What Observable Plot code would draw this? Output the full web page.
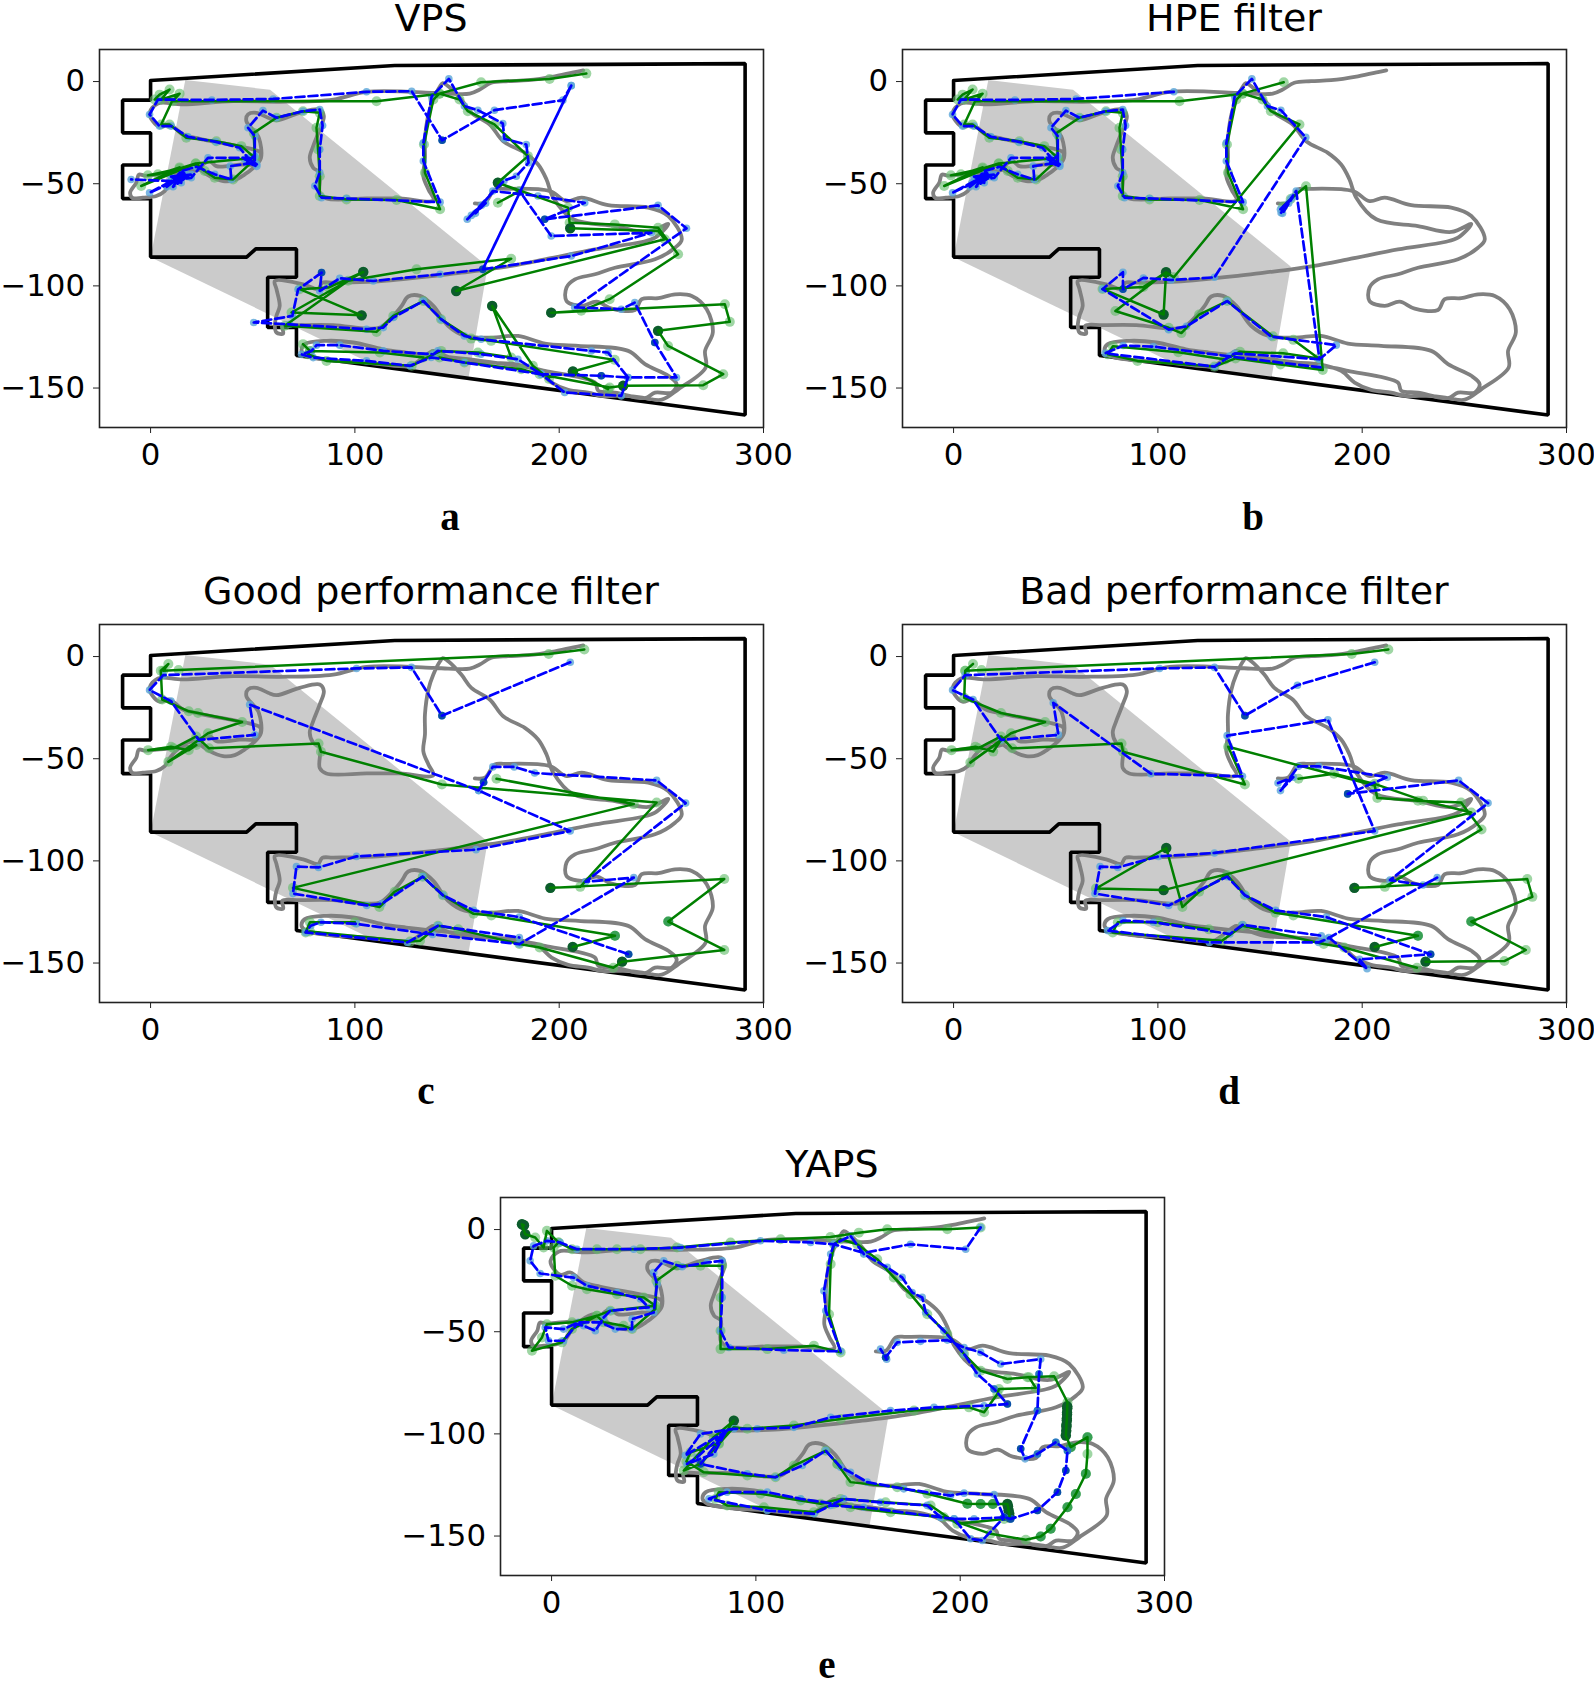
<!DOCTYPE html>
<html><head><meta charset="utf-8">
<script src="https://cdn.jsdelivr.net/npm/d3@7"></script>
<script src="https://cdn.jsdelivr.net/npm/@observablehq/plot@0.6"></script>
<style>
html,body{margin:0;padding:0;background:#fff;}
#fig{position:relative;width:1594px;height:1687px;overflow:hidden;}
.panel{position:absolute;}
.title{position:absolute;font:38px/.8 "DejaVu Sans";color:#000;text-align:center;white-space:nowrap;transform:translateX(-50%);}
.tag{position:absolute;font:bold 39px/1 "Liberation Serif";color:#000;transform:translateX(-50%);}
</style></head><body><div id="fig"></div>
<script>
const GAP=[NaN,NaN];
const tickX=[0,100,200,300];
const tickY=[0,-50,-100,-150];
const boundary=[[0,0],[119.5,7.4],[291,8.3],[291,-163.7],[71.4,-134.6],[71.4,-120.8],[57.3,-120.8],[57.3,-96.3],[71.4,-96.3],[71.4,-82.4],[51.5,-82.4],[47,-86.4],[0,-86.4],[0,-57.8],[-13.7,-57.8],[-13.7,-41.3],[0,-41.3],[0,-25.6],[-13.7,-25.6],[-13.7,-9.6],[0,-9.6],[0,0]];
const coverage=[[17,0.3],[58.5,-4.5],[165,-91],[155.6,-145.6],[110,-139.5],[0,-86.5]];
const trueTrack=[[211.8,5],[207.7,4.1],[197.9,2.1],[184.8,.2],[175,-.3],[166.8,-1.1],[161.1,-4.4],[156.2,-6.4],[145.6,-6.4],[138.4,-6],[105.7,-5.5],[89.4,-9.3],[63.2,-10.4],[40.4,-10.1],[15.8,-11.7],[3.6,-11.2],[-.5,-15.8],[1.1,-19.9],[4.4,-22.6],[9.3,-21.5],[15.8,-26.4],[24,-28.5],[42.8,-32.1],[50.2,-33.7],[53.8,-35.4],[53.1,-39.4],[50.2,-41.1],[43.6,-41.1],[37.7,-41.9],[32.2,-41.9],[28.9,-39.4],[25.7,-41.1],[24,-43.5],[14.2,-45.1],[3,-46],[-3,-46.5],[-5.7,-46],[-7,-50],[-10,-54.9],[-8.7,-57.7],[-3.8,-57.3],[2.8,-56.5],[6.9,-54.1],[10.1,-49.2],[14.2,-45.1],[20.8,-41.9],[24,-43.5],[28.9,-46.8],[35.5,-49.2],[41.2,-48.7],[46,-46],[50,-43],[54,-38],[53,-28],[51,-25],[46.9,-19.9],[47.7,-16.6],[51.8,-15.8],[57.5,-18.2],[61.6,-19.4],[73,-15.8],[82.8,-14.2],[84.8,-17.4],[82.8,-23.9],[79.6,-32.1],[77.9,-37.8],[79.6,-42.7],[82.8,-45],[82.8,-55],[86,-57.7],[105.7,-57.7],[122.1,-57.7],[138.4,-58.6],[136,-53.3],[133.5,-46.8],[134.3,-38.6],[134.3,-28.8],[136,-16.6],[138.4,-9.3],[141.7,-2.8],[143,-1.3],[146,-3],[152.1,-9.3],[157,-15.8],[166,-21.5],[172.6,-29.7],[183.2,-35.4],[189.7,-41.1],[193.8,-48.4],[197.1,-57.3],[206.9,-67.9],[227.3,-71.2],[243.6,-74.1],[253.4,-70.2],[246.9,-76.9],[240.4,-79],[217.5,-82.6],[194.6,-87.2],[176.6,-90.7],[165.2,-92.4],[152.1,-94],[139,-95.6],[109,-98.4],[89.4,-98.9],[84,-99],[82,-102],[74.7,-99.7],[60.8,-98.1],[61.6,-102],[63.2,-110.3],[61.6,-115.2],[60.8,-120],[61.6,-123.3],[64.9,-123.8],[64.5,-120],[73,-119.7],[89.4,-119.7],[105.7,-121.4],[112.3,-120.9],[118.8,-115.2],[122.9,-110.3],[126.1,-105.7],[131.9,-105.4],[138.4,-110.3],[145.6,-120],[153.8,-124.9],[166.8,-125.8],[179.9,-125],[193,-128.7],[209.3,-129.8],[233.8,-132.3],[242,-138.8],[253.4,-144.5],[257.5,-148.6],[255.1,-152.7],[246.9,-152.7],[242,-155.4],[227.3,-152.7],[219.1,-151.8],[217.5,-147.8],[193,-142.1],[184.8,-140.4],[173.4,-138.8],[155.4,-136.4],[125.1,-133.1],[113.7,-131.5],[99.2,-128.2],[86.1,-127.4],[75.5,-129],[73.9,-132.3],[76.3,-134.7],[86.1,-136.7],[105.7,-138],[127,-139.6],[133.4,-135.5],[138.4,-132.3],[142.3,-133.9],[152.1,-137.2],[178.3,-138.8],[189.7,-142.1],[196.3,-147.8],[204.4,-151.4],[214.2,-152.7],[220.8,-154.3],[233.8,-154.3],[242,-155.4],[250.2,-156.2],[258.4,-151],[271.7,-140.4],[271.4,-132.3],[275.2,-123.3],[272.2,-111.9],[264.9,-105.4],[256.7,-104.6],[248.5,-106.5],[240.4,-107],[237.1,-112.3],[225.7,-111.6],[218.3,-108.2],[211,-110.3],[203.6,-107.9],[203.6,-101.3],[207.7,-97.3],[217.5,-94.8],[227.3,-91.6],[246.9,-87.5],[256.7,-81.8],[260,-77.7],[253.4,-66.3],[243.6,-62.2],[224,-61],[211,-57.3],[203.6,-59],[195.4,-54.1],[173.4,-53],[168.5,-53.3],[163.6,-59.8],[158.7,-60.1]];

// shared stretches of the two estimates in panels a and b
const leftGreen=[[10.9,-10.1],[14.2,-6.4],[5.2,-9.3],[9.3,-4.4],[4.4,-6.9],[2,-9.3],[10.9,-9.3],[5.2,-21.5],[9.3,-21.5],[17.5,-28],[32.2,-29.7],[44.4,-32.1],[51,-37.8],[22.1,-40.6],[-4.6,-51.6],[14.2,-42.5],[3.6,-45.9],[-1.3,-46.4],[14.2,-43],[22.1,-40.6],[26.5,-44.3],[31.4,-47.6],[40.4,-48.4],[51,-38.6],[50.5,-25.6],[61.6,-18.2],[74.6,-15],[82.8,-15.8],[81.2,-23.1],[82,-33.7],[82.8,-46.8],[82.8,-56.5],[95.9,-58.2],[120.4,-58.5],[141.7,-63],[134.3,-45.1],[133.8,-31.3],[138.4,-9.3],[141.4,-6.4],[151.2,-9.3],[155.3,-15]];
const leftBlue=[[60,-9],[30,-9.5],[3.6,-9.3],[-.5,-16.6],[4.4,-22.3],[10.1,-22.3],[18.3,-27.5],[32,-30],[43.6,-32.9],[47.7,-37.8],[28.1,-37.8],[19.9,-47.6],[10.1,-49.2],[-.5,-54.9],[10.1,-50],[15,-44.3],[22.4,-42.2],[31.4,-45.9],[39.5,-48.4],[39,-41.9],[51,-40.2],[51,-27.2],[47.7,-23.1],[55,-14.7],[61.6,-18.2],[74.6,-15],[82.8,-14.2],[84.2,-22],[82.8,-33.7],[82.8,-45],[80.4,-51.6],[83.7,-57.3],[95.9,-57.7],[141.7,-59.5],[133.5,-39.4],[133.5,-30.5],[137.6,-7.7],[146,.8],[153.6,-12.5],[160.2,-14.5]];
const blueCluster=[GAP,[8,-52],[17,-45],[9,-50],[18,-47],[11,-52],[16,-44],[12,-49],[20,-46],[10,-47],[15,-50],GAP,[48,-38],[52,-42],[47,-40],[51,-37],[46,-38.5],[52,-41],[49,-39],GAP];

// a: VPS
const greenA=[[213.3,3.4],[195.3,.8],[161.8,-.8],[141.4,-6.4],[110.6,-10.1],...leftGreen,[168.3,-21.5],[184.7,-37],[170,-50],[204.3,-62.2],[205.1,-69.6],[227.2,-70.4],[248.4,-72],[258.2,-85],[224.7,-107],[210.8,-112.7],[196.1,-113.6],[281.1,-109.5],[283.5,-118.1],[248.4,-122.5],[253.3,-129.9],[280.3,-143.7],[270.5,-149.1],[231.3,-149.4],[224.7,-150.2],[190.4,-143.7],[181.4,-141.3],[153.6,-138],[141.4,-135.5],GAP,
 [170,-50],[180.6,-54.1],[170,-59.8],GAP,
 [205.4,-72.3],[248.4,-73.6],[251.7,-77.7],[149.6,-103],[176.5,-87.2],[130.2,-92.4],[96.7,-98],[65.7,-120],[110.6,-123],[118.8,-115.2],[133.5,-107.9],[142.2,-116.8],[156.9,-126.3],[166.7,-127.4],[227.2,-136.7],[206.7,-142.4],[223.9,-151],GAP,
 [104.1,-93.7],[69,-113.5],[103.3,-114.9],[73,-102.1],[87,-101.3],[104.1,-93.7],GAP,
 [167.2,-110.3],[176.5,-135.5],[160.2,-133.1],[142.2,-132.3],[138.4,-134],[127.8,-139.6],[86.1,-137.2],[77.1,-134],[78,-132.3],[74.6,-129],[78,-132.3],[112.2,-133.1],[133.5,-135.5],GAP,
 [167.2,-110.3],[187.1,-139.6],[195,-146]];
const greenDarkA=[[104.1,-93.7],[103.3,-114.9],[149.6,-103],[196.1,-113.6],[167.2,-110.3],[206.7,-142.4],[231.3,-149.4],[170,-50],[205.4,-72.3],[248.4,-122.5]];
const blueA=[[162.6,-92.4],[205.9,-2.5],[162.6,-92.4],[205.9,-2.5],[201.8,-9.6],[168.3,-14.5],[142.7,-29.2],[127.8,-5.2],[105.7,-5.5],...leftBlue,[172.4,-21],[173.2,-28.5],[183.9,-31.3],[185,-40.2],[179,-46.8],[173,-49],[155,-67.9],[162,-61],[157,-66],[164,-60],[159,-65],[167.5,-54.1],[189.6,-56.5],[212.5,-59.8],[192.9,-67.9],[248.4,-61.1],[262.3,-72.3],[207.6,-111],[230.4,-111.9],[237,-108.7],[246.8,-128.2],[257.4,-145.3],[233.7,-145.3],[230.4,-154.3],[202.7,-152.7],[191.2,-143.7],[220.6,-144.5],[233.7,-145.3],[223.9,-133.1],[215.7,-132.3],[161.8,-126.6],[153.6,-125],[142.2,-116.8],[133.5,-107.9],[118.8,-116],[113.9,-120.9],[105.7,-121.7],[68.1,-119.3],[50.5,-118.4],[69.4,-115.2],[72.2,-102.2],[83.7,-94],[82.8,-103],[92.6,-96.8],[109,-98.1],[141.7,-94.8],[162.6,-92.4],[205.9,-85.9],[245.1,-74.5],[196.1,-76.1],[180.6,-54.1],GAP,
 [10.1,-49.2],[-9.5,-48.4],...blueCluster,
 [191.2,-143.7],[153.6,-138],[137.3,-135.5],[127,-139.6],[105.7,-137.2],[79.6,-135.6],[73.9,-134],[78.8,-132.3],[81.2,-129.5],[92.6,-129.5],[113.9,-132.3],[138.4,-134],[140.6,-132.3],[161.8,-133.9],[179.8,-136.4],[191.2,-143.7]];
const blueDarkA=[[142.7,-29.2],[192.9,-67.9],[246.8,-128.2],[220.6,-144.5],[162.6,-92.4],[83.7,-94]];

// b: HPE filter
const greenB=[[161.6,-.8],[141.4,-6.4],[110.6,-10.1],...leftGreen,[169.3,-21.5],[107.8,-96.3],[104,-93.8],[92.9,-101],[72.9,-102],[102.8,-114.5],[104,-93.8],[79.2,-112.8],[105.3,-121],[111.5,-123.6],[120.2,-114.5],[133.9,-107.9],[156.3,-125.2],[166.3,-126.9],[178.7,-136],[161.3,-133.5],[140.2,-132.7],[133,-136.5],[110,-133],[78,-130],[75.5,-134],[90,-137.2],[127.7,-140],[138,-136],[160,-139],[180.7,-141.7],[172.5,-51.7],[165,-58],[161.3,-61.6]];
const greenDarkB=[[104,-93.8],[102.8,-114.5]];
const blueB=[[107.8,-5.5],...leftBlue,[172.4,-27.8],[127.7,-96.3],[106.5,-97.6],[92.9,-96.6],[82.9,-102.1],[82.9,-93.8],[72.9,-102.1],[105.3,-121.9],[114,-120.3],[133.9,-107.9],[155.4,-125.3],[187.3,-129.5],[179.1,-136.4],[167.7,-54.1],[160.3,-64.7],[165,-58],[160,-63],[166,-57],[161,-65],[164,-60],...blueCluster,
 [179.1,-136.4],[137.7,-133.5],[135.2,-135],[97.8,-130.2],[83,-129.7],[74.2,-133.5],[127.7,-140],[135,-135],[179.6,-140.4]];
const blueDarkB=[[82.9,-102.1]];

// c: Good performance filter
const greenC=[[212.3,3],[194.9,.8],[13.7,-7.1],[6.2,-7.4],[8.7,-4.1],[5,-7.4],[5.7,-21.5],[18.7,-27.3],[23.2,-28.1],[44.8,-32.5],[28.1,-38],[8.7,-52],[22.4,-43.8],[18.7,-46.3],[10,-44.6],[-1.2,-46.3],[11.2,-45.4],[22.4,-39.6],[28.6,-45.4],[82.2,-43],[83.4,-47.1],[142.6,-63.1],[247.7,-71.9],[210.3,-113.2],[195.7,-113.7],[280.8,-109.4],[253.4,-130.2],[280.8,-144.1],[230.8,-149.8],[226.5,-152.8],[190.4,-142.9],[180.5,-141.2],[150.6,-134],[140.7,-132.2],[131.9,-139.6],[127,-140],[78,-135],[75.9,-135.5],[78,-130.5],[100,-130.5],GAP,
 [169.3,-60.3],[236.5,-72.7],[69.7,-113.7],[112,-123.1],[119.5,-115.6],[133.2,-108.2],[143.1,-117.3],[158.1,-126.4],[166.8,-127.2],[227.3,-137.1],[206.6,-142.6]];
const greenMidC=[[253.4,-130.2],[227.3,-137.1]];
const greenDarkC=[[195.7,-113.7],[206.6,-142.6],[230.8,-149.8]];
const blueC=[[205.4,-3.3],[142.6,-29.4],[127.7,-5.8],[100.8,-6.3],[6.2,-9.6],[-.5,-16.9],[10,-22.3],[23.6,-41.3],[51,-38.8],[48.5,-24],[160.6,-66.1],[205.4,-85.9],[159.3,-95],[100.8,-98.3],[82.2,-103.7],[71.4,-103.3],[69.7,-116.5],[105.8,-122.3],[113.3,-121.4],[133.2,-108.2],[143.1,-117.3],[158.1,-124.7],[180.5,-128],[234,-146.2],GAP,
 [160.6,-66],[163,-62],[167.5,-54.5],[178,-54.5],[188,-57.5],[247.7,-61.1],[261.9,-72.2],[212.9,-110.7],[236.5,-108.7],[180.5,-141.2],[138,-136.5],[100.8,-131.3],[83.4,-130.5],[78.4,-132.2],[75.9,-135.5],[125.7,-140.4],[140.7,-132.2],[180.5,-138]];
const blueDarkC=[[142.6,-29.4],[163,-62],[234,-146.2]];

// d: Bad performance filter
const greenD=[[212.8,3],[194.9,.8],[13.7,-7.1],[5.7,-7.4],[9.5,-4.1],[5.7,-7.4],[5.2,-20.7],[23.2,-28.1],[44.8,-32.5],[28.1,-38],[8.2,-52.4],[23.2,-41.3],[19.4,-47],[10.7,-44.6],[-1,-46.3],[12,-45.4],[23.2,-39.6],[28.6,-45.4],[82.2,-43],[82.9,-47.1],[142.6,-63.1],[134.4,-44.6],[206.1,-63.6],[207.4,-69.7],[227.3,-71],[248.4,-71.9],[258.4,-85.1],[211.1,-113.2],[196.2,-113.7],[280.8,-109.4],[283.3,-118.1],[253.4,-130.2],[280.1,-144.1],[269.6,-149.5],[231,-149.8],GAP,
 [226.8,-152.8],[191.2,-142.9],[181.2,-141.2],[141.4,-132.2],[131.4,-139.6],[77.9,-135.5],[80.4,-130.5],[100,-130.5],[125,-134],GAP,
 [168.8,-60.3],[186.2,-57.8],[206.1,-62.8],[229.8,-71],[253.4,-76.8],[102.8,-114.8],[69.7,-114],[104.1,-94.2],[112,-123.1],[120.2,-115.6],[133.9,-107.4],[142.6,-117.3],[157.6,-125.9],[166.3,-127.2],[227.3,-137.1],[206.1,-142.6]];
const greenMidD=[[253.4,-130.2],[227.3,-137.1]];
const greenDarkD=[[196.2,-113.7],[102.8,-114.8],[104.1,-94.2],[206.1,-142.6],[231,-149.8]];
const blueD=[[206.1,-3.3],[168.3,-14.5],[142.6,-29.4],[127.7,-5.8],[100.8,-6.3],[5.7,-9.6],[-.5,-16.9],[9.5,-21.5],[23.2,-41.3],[51.3,-38.8],[48.8,-23.1],[96.6,-57.8],[141.4,-59.1],[133.9,-39.2],[183.2,-31.4],[206.1,-85.9],[127.7,-96.6],[100.3,-98.3],[80.4,-103.7],[71.7,-103.3],[69.2,-116.5],[105.3,-122.3],[133.9,-108.2],[142.6,-117.3],[157.6,-124.7],[182.5,-128],[233.5,-146.2],[198.7,-148.7],[202.4,-153.3],[183.7,-138],GAP,
 [158.8,-62.4],[166.3,-59.5],[160,-66.1],[168.8,-54.2],[178.7,-54.2],[212.3,-59.5],[192.9,-67.7],[247.2,-61.1],[261.6,-72.2],[213.6,-109.9],[229.8,-112.3],[236.7,-108.7],[182.5,-138.8],[178.7,-140.4],[125.2,-140.4],[75.4,-134.6],[82.9,-129.7],[97.8,-130.5],[135.2,-136.3],[141.4,-131.8],[180,-137.1]];
const blueDarkD=[[142.6,-29.4],[192.9,-67.7],[233.5,-146.2]];

// e: YAPS
const greenE=[[210,.5],[193.7,-.3],[164.3,-.3],[150.4,-2],[136.5,-4.1],[112.1,-5.2],[87.6,-6.8],[61.4,-9.3],[43.5,-10.1],[32,-10.1],[22.2,-10.1],[10,-10.1],[3.4,-6.8],[-2.3,-1.1],[-3.9,-9.3],[-8,-4.4],[-12.9,-2.8],[-14.5,2.1],[-13.5,1.6],GAP,
 [3.4,-6.8],[1,-9.3],[1.8,-23.1],[10,-28],[17.3,-29.7],[32,-32.1],[45.1,-33.7],[50.8,-37.8],[28.8,-40.2],[22.2,-42.7],[10,-45.9],[-2.3,-46.8],[-4.7,-53.3],[-9.6,-59.8],[5.1,-55.7],[10,-49.2],[22.2,-42.7],[25.5,-45.9],[35.3,-47.6],[39.4,-49.2],[50.8,-39.4],[51.3,-25.6],[61.4,-18.2],[72.9,-18.2],[83.5,-18.2],[82.7,-33.7],[82.7,-50],[82.7,-59],[105.6,-59],[128.4,-57.3],[141.5,-60.6],[135.8,-41.9],[136.6,-17.4],[138.2,-7.7],[141.4,-5.2],[149.6,-7.7],[159.4,-15],[167.5,-23.9],[175.7,-32.1],[183.9,-41.9],[193.7,-51.6],[201.9,-61.4],[210,-69.6],[223.1,-73.6],[232.9,-72.8],[246,-72.3],[252.5,-85],[252.4,-87],[252.4,-88],[252.3,-90],[252.3,-91],[252.2,-93],[252.2,-94],[252,-96],[252,-97],[251.9,-99],[251.7,-101.3],[254.1,-107],[262.3,-102.1],[262.3,-110.3],[261.5,-120],[256.6,-129.9],[252.5,-136.4],[244.3,-146.9],[239.4,-150.7],[232.1,-152.3],[214.9,-149.4],[192,-141.3],[165.9,-138.8],[146.3,-136.4],[138.2,-134.7],[128.4,-138.8],[103.9,-136.4],[85.9,-135.5],[80.2,-132.3],[81.9,-129],[102.3,-129.8],[121.9,-133.1],[131.7,-134.7],[141.5,-132.3],[163.5,-134],[185.5,-135.5],[198.6,-144.5],[221.5,-142.1],GAP,
 [139.9,-115.2],[146.3,-124.1],[169.2,-126.6],[183.9,-129.8],[203.5,-134.7],[210,-134.8],[216,-134.8],[223.1,-134.8],[223.4,-136],[223.7,-138],[224,-139.5],[224.2,-141.3],GAP,
 [233.7,-72.8],[237,-78],[219,-78.5],[218.2,-81],[211.7,-89.9],[204.3,-87.5],[177.4,-89.1],[141.5,-93.2],[118.6,-96.4],[95.8,-98],[89.2,-97.2],[81.9,-105.4],[72.9,-115.2],[64.7,-118.4],[79.4,-102.1],[89.2,-94],[81.9,-105],[68,-109.5],[66,-114],[74.5,-119.3],[95.8,-120.9],[109.6,-121.7],[118.6,-116],[134.2,-108.7],[139.9,-115.2]];
const greenMidE=[[262.3,-102.1],[261.5,-120],[256.6,-129.9],[252.5,-136.4],[244.3,-146.9],[239.4,-150.7],[203.5,-134.7],[210,-134.8],[216,-134.8],[254.1,-107]];
const greenDarkE=[[-14.5,2.1],[-13.5,1.6],[-12.9,-2.8],[89.2,-94],[252.4,-87],[252.4,-88],[252.3,-90],[252.3,-91],[252.2,-93],[252.2,-94],[252,-96],[252,-97],[251.9,-99],[251.7,-101.3],[223.1,-134.8],[223.4,-136],[223.7,-138],[224,-139.5],[224.2,-141.3]];
const blueE=[[210,.5],[202.7,-10.1],[175.7,-7.7],[152.8,-11.9],[138.2,-7.7],[126.8,-6.8],[102.3,-6],[63.1,-9.3],[40.2,-10.1],[12.4,-10.1],[4.2,-6.8],[-2.3,-6],[-8.8,-8.5],[-10.5,-15.8],[-5.6,-22],[10.8,-24],[17.3,-28],[32,-31.3],[43.5,-34.5],[47.5,-38.6],[28.8,-40.2],[25.5,-43.5],[21.4,-50],[15.7,-47.6],[12.4,-46.8],[5.9,-54.9],[-1.5,-54.9],[-3.1,-48.4],[5.9,-49.2],[13.2,-45.9],[23.9,-45.9],[31.2,-49.2],[39.4,-49.2],[39.4,-44.3],[50,-41.1],[51.6,-27.2],[50,-21.5],[54.9,-15.8],[63.9,-18.7],[76.1,-16.6],[83.5,-15.8],[83.5,-33.7],[82.7,-50],[86.8,-58.2],[113.7,-59.5],[141.5,-60.1],[134.2,-40.2],[133.3,-30.5],[136.6,-12.5],[138.2,-7.7],[146.3,-3.6],[152.8,-12.5],[164.3,-19],[171.6,-23.9],[176.5,-31.3],[181.4,-33.7],[183.1,-41],[192,-50],[201.9,-61.4],[208.4,-71.2],[216.6,-78.5],[223.1,-85.9],[211.7,-86.7],[187.2,-87.5],[165.9,-89.1],[136.6,-92.4],[118.6,-97.3],[100.7,-98],[89.2,-98],[72.9,-100.5],[65.5,-111],[85.9,-98.9],[71.2,-111.9],[66.3,-115.2],[79.4,-110.3],[85,-100],[72.9,-115.2],[95.8,-120],[109.6,-121.7],[122.7,-116],[134.2,-108.7],[141.5,-116.8],[146.3,-119.3],[154.5,-124.1],[172.4,-127.4],[195.3,-130.7],[201.9,-129.5],[216.6,-130.2],[221.5,-141.3],[224.7,-142.1],[237.8,-138],[247.6,-129],[251.7,-118.4],[252.5,-108.7],[246.8,-104.6],[237.8,-110.3],[231.8,-112.7],[229.6,-107.8],[237.8,-89.1],[238.6,-71.2],[239.4,-63.9],[219.8,-66.3],[210,-60.6],[201.9,-58.2],[193.7,-54.6],[180.6,-55.2],[169.2,-55.7],[163.5,-63],[161,-59],[164,-64],GAP,
 [221.5,-141.3],[206.8,-142.1],[197,-142.1],[205.1,-151.8],[210.8,-152.7],[221.5,-141.3],GAP,
 [197,-142.1],[190.4,-141.3],[152.8,-136.4],[136.5,-135.5],[128.4,-139.6],[105.6,-138],[77,-132.3],[85.9,-129],[105.6,-129],[121.9,-132.3],[138.2,-134.7],[143,-132.3],[161,-134],[183.9,-135.5],[190.4,-141.3]];
const blueMidE=[[237.8,-89.1],[238.6,-71.2],[252.5,-108.7],[237.8,-110.3],[246.8,-104.6],[216.6,-78.5]];
const blueDarkE=[[223.1,-85.9],[251.7,-118.4],[247.6,-129],[237.8,-138],[224.7,-142.1],[229.6,-107.8],[163.5,-63],[221.5,-141.3],[72.9,-115.2]];

const titles=["VPS","HPE filter","Good performance filter","Bad performance filter","YAPS"];
const tags=["a","b","c","d","e"];
const xDomain=[-25,300], yDomain=[-169.8,15.2];
const panels=[
 {t:0,left:0,top:44,tl:431,tt:3,gx:450,gy:497,g:greenA,gd:greenDarkA,gm:[],b:blueA,bd:blueDarkA,bm:[]},
 {t:1,left:802.5,top:44,tl:1234,tt:3,gx:1253,gy:497,g:greenB,gd:greenDarkB,gm:[],b:blueB,bd:blueDarkB,bm:[]},
 {t:2,left:0,top:619,tl:431,tt:576,gx:426,gy:1071,g:greenC,gd:greenDarkC,gm:greenMidC,b:blueC,bd:blueDarkC,bm:[]},
 {t:3,left:802.5,top:619,tl:1234,tt:576,gx:1229,gy:1071,g:greenD,gd:greenDarkD,gm:greenMidD,b:blueD,bd:blueDarkD,bm:[]},
 {t:4,left:401,top:1192,tl:832,tt:1149,gx:827,gy:1645,g:greenE,gd:greenDarkE,gm:greenMidE,b:blueE,bd:blueDarkE,bm:blueMidE}
];
const fig=document.getElementById("fig");
const minus=d=>String(d).replace("-","\u2212");
const X=d=>d[0],Y=d=>d[1];
for(const p of panels){
 const chart=Plot.plot({
  width:794,height:428,marginLeft:99,marginRight:31,marginTop:5,marginBottom:45,
  x:{domain:xDomain},y:{domain:yDomain},
  style:{fontFamily:"DejaVu Sans",background:"transparent",overflow:"visible",color:"#000"},
  marks:[
   Plot.line(coverage.concat([coverage[0]]),{x:X,y:Y,fill:"#cbcbcb",stroke:"none"}),
   Plot.line(boundary,{x:X,y:Y,stroke:"#000",strokeWidth:3.6,strokeLinejoin:"miter"}),
   Plot.line(trueTrack,{x:X,y:Y,stroke:"#808080",strokeWidth:3.8,curve:"catmull-rom"}),
   Plot.dot(p.g,{x:X,y:Y,r:5,fill:"#5fbb68",fillOpacity:.6}),
   Plot.dot(p.gm,{x:X,y:Y,r:5,fill:"#2c9a4c",fillOpacity:.9}),
   Plot.dot(p.gd,{x:X,y:Y,r:5.2,fill:"#0c5c2c"}),
   Plot.dot(p.b,{x:X,y:Y,r:3.8,fill:"#5aa5d8",fillOpacity:.8}),
   Plot.dot(p.bm,{x:X,y:Y,r:3.8,fill:"#2a79c0"}),
   Plot.dot(p.bd,{x:X,y:Y,r:3.8,fill:"#0a4fa6"}),
   Plot.line(p.g,{x:X,y:Y,stroke:"#008000",strokeWidth:2.5}),
   Plot.line(p.b,{x:X,y:Y,stroke:"#0000ff",strokeWidth:2.7,strokeDasharray:"9,4"}),
   Plot.frame({stroke:"#222",strokeWidth:1.6}),
   Plot.axisX({ticks:tickX,tickFormat:minus,fontSize:30.8,tickSize:6,tickPadding:10,label:null,stroke:"#222"}),
   Plot.axisY({ticks:tickY,tickFormat:minus,fontSize:30.8,tickSize:6,tickPadding:8.5,dy:1,label:null,stroke:"#222"})
  ]
 });
 chart.classList.add("panel");
 chart.style.left=p.left+"px";chart.style.top=p.top+"px";
 fig.appendChild(chart);
 const t=document.createElement("div");t.className="title";t.textContent=titles[p.t];
 t.style.left=p.tl+"px";t.style.top=p.tt+"px";fig.appendChild(t);
 const g=document.createElement("div");g.className="tag";g.textContent=tags[p.t];
 g.style.left=p.gx+"px";g.style.top=p.gy+"px";fig.appendChild(g);
}
</script></body></html>
